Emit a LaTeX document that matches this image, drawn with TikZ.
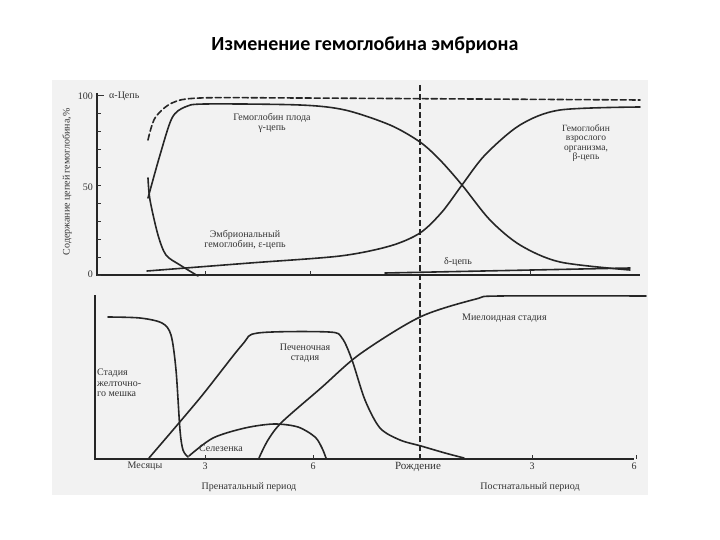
\documentclass[tikz,border=0pt]{standalone}
\usepackage{fontspec}
\setmainfont{Liberation Serif}
\newfontfamily\titlefont{Carlito}
\begin{document}
\begin{tikzpicture}[x=1pt,y=-1pt,
  curve/.style={line width=1.6pt,black!85,line cap=round},
  axis/.style={line width=1.3pt,black!85},
  lbl/.style={font=\fontsize{10}{10.5}\selectfont,text=black!80,inner sep=0pt,align=center},
  tick/.style={line width=0.8pt,black!80}]
\useasboundingbox (0,0) rectangle (720,540);
\fill[white] (0,0) rectangle (720,540);
\fill[black!5] (52,80) rectangle (648,495);
\node[font=\titlefont\bfseries\fontsize{20}{22}\selectfont] (title) at (365,45) {Изменение гемоглобина эмбриона};
% top axes
\draw[axis] (97,93) -- (97,275) -- (640,275);
\foreach \v in {0,...,10} \draw[tick] (97,{275-18*\v}) -- (101,{275-18*\v});
\draw[tick] (97,95) -- (104,95);
\node[lbl,anchor=east] (t100) at (93,96) {100};
\node[lbl,anchor=east] (t50) at (93,187) {50};
\node[lbl,anchor=east] (t0) at (93,274) {0};
\foreach \x in {205,310,530} \draw[tick] (\x,275) -- (\x,271);
\node[lbl,rotate=90] (ylab) at (67,182) {Содержание цепей гемоглобина,\%};
% birth line
\draw[line width=1.2pt,black!85,dash pattern=on 6pt off 3pt] (420,85) -- (420,460);
% alpha
\draw[curve,dash pattern=on 6pt off 3pt] plot[smooth] coordinates {(148,140) (155,118) (172,103) (200,98) (300,98) (640,100)};
% gamma
\draw[curve] plot[smooth] coordinates {(148,198) (160,155) (172,118) (185,107) (205,104) (300,105) (345,110) (390,125) (420,142) (440,160) (462,185) (490,220) (520,245) (560,262) (630,270)};
% epsilon
\draw[curve] plot[smooth] coordinates {(148,178) (150,200) (158,235) (166,255) (180,265) (198,276)};
% beta
\draw[curve] plot[smooth] coordinates {(147,271) (250,263) (340,256) (390,246) (420,233) (442,212) (462,185) (485,155) (520,125) (560,110) (640,107)};
% delta
\draw[curve] (385,273) -- (630,268);
\node[lbl,anchor=west] (alab) at (109,96) {α-Цепь};
\node[lbl] (glab) at (272,123) {Гемоглобин плода\\γ-цепь};
\node[lbl] (elab) at (245,240) {Эмбриональный\\гемоглобин, ε-цепь};
\node[lbl,font=\fontsize{9.5}{9.5}\selectfont] (blab) at (586,143) {Гемоглобин\\взрослого\\организма,\\β-цепь};
\node[lbl] (dlab) at (458,262) {δ-цепь};
% bottom axes
\draw[axis] (95,295) -- (95,459) -- (634,459);
\foreach \x in {205,313,532,636} \draw[tick] (\x,459) -- (\x,455);
% yolk
\draw[curve] plot[smooth] coordinates {(108,317) (140,318) (162,323) (171,335) (176,370) (180,430) (183,450) (188,457)};
% liver
\draw[curve] plot[smooth] coordinates {(149,458) (200,398) (242,345) (258,333) (329,332) (342,338) (352,360) (365,400) (380,428) (400,440) (421,446) (445,453) (464,458)};
% spleen
\draw[curve] plot[smooth] coordinates {(189,456) (213,438) (245,428) (274,424) (298,427) (315,437) (322,448) (326,458)};
% myeloid
\draw[curve] plot[smooth] coordinates {(259,458) (268,440) (282,422) (321,388) (360,354) (420,317) (476,299) (500,296) (646,296)};
\node[lbl,anchor=west] (mlab) at (462,318) {Миелоидная стадия};
\node[lbl] (llab) at (305,353) {Печеночная\\стадия};
\node[lbl,anchor=west,align=left] (ylab2) at (97,383) {Стадия\\желточно-\\го мешка};
\node[lbl] (slab) at (221,448) {Селезенка};
\node[lbl] (m0) at (145,466) {Месяцы};
\node[lbl] (m3) at (205,466) {3};
\node[lbl] (m6) at (313,466) {6};
\node[lbl,font=\fontsize{11}{11}\selectfont] (birth) at (418,467) {Рождение};
\node[lbl] (p3) at (532,466) {3};
\node[lbl] (p6) at (634,466) {6};
\node[lbl] (pre) at (249,487) {Пренатальный период};
\node[lbl] (post) at (530,487) {Постнатальный период};
\end{tikzpicture}
\end{document}
